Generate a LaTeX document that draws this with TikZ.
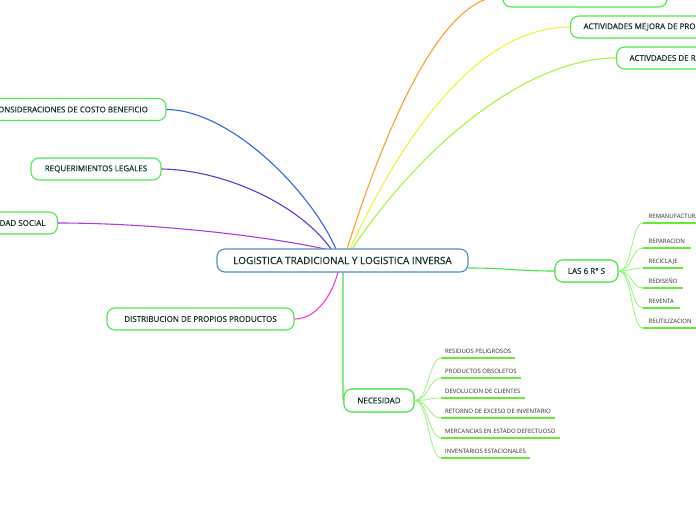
\documentclass[tikz,border=0pt]{standalone}
\usepackage{fontspec}
\setmainfont{Open Sans}
\newfontfamily\boxfont[FakeBold=0.5]{Open Sans}
\definecolor{boxgreen}{RGB}{80,232,80}
\definecolor{txt}{RGB}{20,48,50}
\definecolor{leaftxt}{RGB}{45,45,45}
\definecolor{cblue}{RGB}{80,140,200}
\definecolor{brblue}{RGB}{50,100,240}
\definecolor{brpurple}{RGB}{100,50,220}
\definecolor{brviolet}{RGB}{170,60,240}
\definecolor{brmagenta}{RGB}{240,60,220}
\definecolor{brorange}{RGB}{250,160,50}
\definecolor{bryellow}{RGB}{245,240,60}
\definecolor{brlime}{RGB}{170,245,60}
\definecolor{brgreen}{RGB}{70,225,70}
\definecolor{twig}{RGB}{150,245,120}
\definecolor{uline}{RGB}{100,235,60}
\begin{document}
\begin{tikzpicture}[x=1pt,y=-1pt,
  box/.style={draw=boxgreen, line width=1.1pt, rounded corners=8pt, fill=white,
    text=txt, font=\boxfont\fontsize{8}{9}\selectfont, minimum height=22pt, inner xsep=0pt, inner ysep=0pt},
  boxw/.style={box, inner xsep=13pt},
  branch/.style={line width=1.1pt},
  twigline/.style={draw=twig, line width=0.8pt},
  leaf/.style={anchor=south west, inner xsep=4pt, inner ysep=4.5pt, text depth=0pt,
    text=leaftxt, font=\fontsize{6}{7}\selectfont},
  leafr/.style={leaf, inner xsep=5.5pt},
  ul/.style={draw=uline, line width=2pt}
]
\useasboundingbox (0,0) rectangle (696,520);
\clip (0,0) rectangle (696,520);

\coordinate (cBlue) at (336,249);
\coordinate (cPurple) at (331,249);
\coordinate (cViolet) at (325,249);
\coordinate (cOrange) at (347,249);
\coordinate (cYellow) at (350,249);
\coordinate (cLime) at (352,249);
\coordinate (cMag) at (338,272);
\coordinate (cDown) at (343,272);
\coordinate (cRight) at (468,268);

% nodes
\node[box, minimum width=191pt] (cons) at (70.5,109.5) {CONSIDERACIONES DE COSTO BENEFICIO};
\node[box, minimum width=130pt] (req) at (96,169) {REQUERIMIENTOS LEGALES};
\node[boxw, anchor=east, inner xsep=12pt] (soc) at (58,223) {RESPONSABILIDAD SOCIAL};
\node[box, minimum width=187pt] (dist) at (200.5,319) {DISTRIBUCION DE PROPIOS PRODUCTOS};
\node[box, minimum width=164pt] (top) at (585,-4) {};
\node[boxw, anchor=west] (mej) at (570,27) {ACTIVIDADES MEJORA DE PRO};
\node[boxw, anchor=west] (rec) at (616,58) {ACTIVDADES DE R};
\node[box, minimum width=63pt] (las) at (586.5,271) {LAS 6 R° S};
\node[box, minimum width=70pt, minimum height=23pt] (nec) at (379,400.5) {NECESIDAD};

\draw[branch, brblue] (cons.east) .. controls (230,110) and (310,190) .. (cBlue);
\draw[branch, brpurple] (req.east) .. controls (225,170) and (300,205) .. (cPurple);
\draw[branch, brviolet] (soc.east) .. controls (150,223) and (260,235) .. (cViolet);
\draw[branch, brmagenta] (dist.east) .. controls (318,319) and (333,292) .. (cMag);
\draw[branch, brorange] (cOrange) .. controls (385,130) and (440,-4) .. (top.west);
\draw[branch, bryellow] (cYellow) .. controls (405,130) and (480,27) .. (mej.west);
\draw[branch, brlime] (cLime) .. controls (425,140) and (530,58) .. (rec.west);
\draw[branch, brgreen] (cDown) -- (343,398) -- (nec.west);
\draw[branch, brgreen] (cRight) .. controls (510,268) and (515,271) .. (las.west);

% boxes redrawn over branch ends
\node[box, minimum width=63pt] at (las) {LAS 6 R° S};
\node[box, minimum width=70pt, minimum height=23pt] at (nec) {NECESIDAD};

\node[box, draw=cblue, minimum width=251pt, minimum height=23pt,
  font=\boxfont\fontsize{10}{11}\selectfont] (c) at (342.5,260.5) {LOGISTICA TRADICIONAL Y LOGISTICA INVERSA};

% LAS 6 R S leaves
\node[leafr] (r1) at (643,223) {REMANUFACTURA};
\node[leafr] (r2) at (643,248) {REPARACION};
\node[leafr] (r3) at (643,268) {RECICLAJE};
\node[leafr] (r4) at (643,288) {REDISEÑO};
\node[leafr] (r5) at (643,308) {REVENTA};
\node[leafr] (r6) at (643,328) {REUTILIZACION};
\foreach \n in {r1,r2,r3,r4,r5,r6}{
  \draw[twigline] (las.east) .. controls +(14,0) and +(-12,0) .. (\n.south west);
  \draw[ul] (\n.south west) -- (\n.south east);
}

% NECESIDAD leaves
\node[leaf] (n1) at (441,358) {RESIDUOS PELIGROSOS};
\node[leaf] (n2) at (441,378) {PRODUCTOS OBSOLETOS};
\node[leaf] (n3) at (441,398) {DEVOLUCION DE CLIENTES};
\node[leaf] (n4) at (441,418) {RETORNO DE EXCESO DE INVENTARIO};
\node[leaf] (n5) at (441,438) {MERCANCIAS EN ESTADO DEFECTUOSO};
\node[leaf] (n6) at (441,458) {INVENTARIOS ESTACIONALES};
\foreach \n in {n1,n2,n3,n4,n5,n6}{
  \draw[twigline] (nec.east) .. controls +(14,0) and +(-12,0) .. (\n.south west);
  \draw[ul] (\n.south west) -- (\n.south east);
}
\end{tikzpicture}
\end{document}
